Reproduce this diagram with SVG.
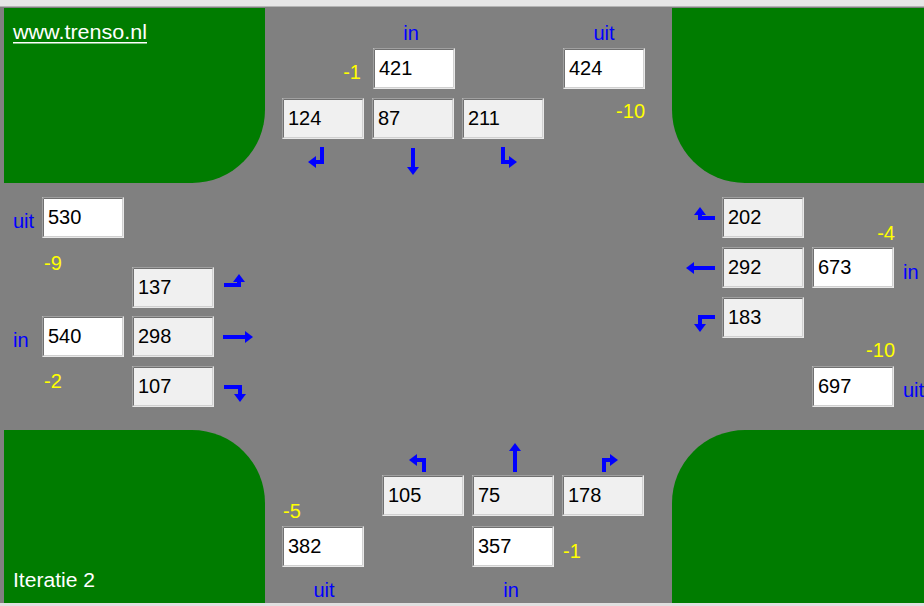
<svg xmlns="http://www.w3.org/2000/svg" xmlns:xlink="http://www.w3.org/1999/xlink" width="924" height="606" viewBox="0 0 924 606">
<style>
.grass{fill:#007c00}
.num{font-family:"Liberation Sans",Arial,sans-serif;font-size:20px;fill:#000}
.lbl{font-family:"Liberation Sans",Arial,sans-serif;font-size:20px;fill:#0000ff}
.diff{font-family:"Liberation Sans",Arial,sans-serif;font-size:20px;fill:#ffff00}
.white{font-family:"Liberation Sans",Arial,sans-serif;font-size:20px;fill:#ffffff}
.arr{fill:none;stroke:#0000ff;stroke-width:4;stroke-linejoin:miter;marker-end:url(#head)}
</style>
<defs>
<marker id="head" markerUnits="userSpaceOnUse" markerWidth="8" markerHeight="12" viewBox="0 0 8 12" refX="2" refY="6" orient="auto">
<path d="M0,0 L8,6 L0,12 Z" fill="#0000ff"/>
</marker>
<g id="boxW">
<rect x="0" y="0" width="82" height="41" fill="#ffffff"/>
<path d="M0.5,41 V0.5 H82" fill="none" stroke="#a0a0a0"/>
<path d="M1.5,40 V1.5 H81" fill="none" stroke="#707070"/>
<path d="M0.5,40.5 H81.5 V0.5" fill="none" stroke="#e8e8e8"/>
<path d="M1.5,39.5 H80.5 V1.5" fill="none" stroke="#d0d0d0"/>
</g>
<g id="boxG">
<rect x="0" y="0" width="82" height="41" fill="#f0f0f0"/>
<path d="M0.5,41 V0.5 H82" fill="none" stroke="#a0a0a0"/>
<path d="M1.5,40 V1.5 H81" fill="none" stroke="#707070"/>
<path d="M0.5,40.5 H81.5 V0.5" fill="none" stroke="#e8e8e8"/>
<path d="M1.5,39.5 H80.5 V1.5" fill="none" stroke="#d0d0d0"/>
</g>
</defs>
<rect x="0" y="0" width="924" height="606" fill="#808080"/>
<rect x="0" y="0" width="924" height="6" fill="#e6e6e6"/>
<rect x="0" y="6" width="924" height="1" fill="#b4b4b4"/>
<rect x="0" y="603" width="924" height="3" fill="#e0e0e0"/>
<g id="grass">
<path class="grass" d="M4,8 H265 V110 A73,73 0 0 1 192,183 H4 Z"/>
<path class="grass" d="M672,8 H924 V183 H745 A73,73 0 0 1 672,110 Z"/>
<path class="grass" d="M4,430 H192 A73,73 0 0 1 265,503 V603 H4 Z"/>
<path class="grass" d="M745,430 H924 V603 H672 V503 A73,73 0 0 1 745,430 Z"/>
</g>
<g id="captions">
<text class="white" x="13" y="39" textLength="134" lengthAdjust="spacingAndGlyphs">www.trenso.nl</text>
<rect x="13" y="42" width="134" height="1.5" fill="#ffffff"/>
<text class="white" x="13" y="587" textLength="82" lengthAdjust="spacingAndGlyphs">Iteratie 2</text>
</g>
<g id="north">
<text class="lbl" x="411" y="40" text-anchor="middle">in</text>
<text class="lbl" x="604" y="40" text-anchor="middle">uit</text>
<text class="diff" x="361" y="79" text-anchor="end">-1</text>
<text class="diff" x="645" y="118" text-anchor="end">-10</text>
<g id="n-in" transform="translate(373,48)"><use xlink:href="#boxW"/><text class="num" x="6" y="27">421</text></g>
<g id="n-uit" transform="translate(563,48)"><use xlink:href="#boxW"/><text class="num" x="6" y="27">424</text></g>
<g id="n-r" transform="translate(282,98)"><use xlink:href="#boxG"/><text class="num" x="6" y="27">124</text></g>
<g id="n-s" transform="translate(372,98)"><use xlink:href="#boxG"/><text class="num" x="6" y="27">87</text></g>
<g id="n-l" transform="translate(462,98)"><use xlink:href="#boxG"/><text class="num" x="6" y="27">211</text></g>
</g>
<g id="west">
<text class="lbl" x="13" y="228">uit</text>
<text class="diff" x="44" y="270">-9</text>
<text class="lbl" x="13" y="347">in</text>
<text class="diff" x="44" y="388">-2</text>
<g id="w-uit" transform="translate(42,197)"><use xlink:href="#boxW"/><text class="num" x="6" y="27">530</text></g>
<g id="w-l" transform="translate(132,267)"><use xlink:href="#boxG"/><text class="num" x="6" y="27">137</text></g>
<g id="w-in" transform="translate(42,316)"><use xlink:href="#boxW"/><text class="num" x="6" y="27">540</text></g>
<g id="w-s" transform="translate(132,316)"><use xlink:href="#boxG"/><text class="num" x="6" y="27">298</text></g>
<g id="w-r" transform="translate(132,366)"><use xlink:href="#boxG"/><text class="num" x="6" y="27">107</text></g>
</g>
<g id="east">
<text class="diff" x="895" y="240" text-anchor="end">-4</text>
<text class="lbl" x="903" y="279">in</text>
<text class="diff" x="895" y="357" text-anchor="end">-10</text>
<text class="lbl" x="903" y="397">uit</text>
<g id="e-r" transform="translate(722,197)"><use xlink:href="#boxG"/><text class="num" x="6" y="27">202</text></g>
<g id="e-s" transform="translate(722,247)"><use xlink:href="#boxG"/><text class="num" x="6" y="27">292</text></g>
<g id="e-in" transform="translate(812,247)"><use xlink:href="#boxW"/><text class="num" x="6" y="27">673</text></g>
<g id="e-l" transform="translate(722,297)"><use xlink:href="#boxG"/><text class="num" x="6" y="27">183</text></g>
<g id="e-uit" transform="translate(812,366)"><use xlink:href="#boxW"/><text class="num" x="6" y="27">697</text></g>
</g>
<g id="south">
<text class="diff" x="283" y="518">-5</text>
<text class="diff" x="563" y="558">-1</text>
<text class="lbl" x="324" y="597" text-anchor="middle">uit</text>
<text class="lbl" x="511" y="597" text-anchor="middle">in</text>
<g id="s-l" transform="translate(382,475)"><use xlink:href="#boxG"/><text class="num" x="6" y="27">105</text></g>
<g id="s-s" transform="translate(472,475)"><use xlink:href="#boxG"/><text class="num" x="6" y="27">75</text></g>
<g id="s-r" transform="translate(562,475)"><use xlink:href="#boxG"/><text class="num" x="6" y="27">178</text></g>
<g id="s-uit" transform="translate(282,526)"><use xlink:href="#boxW"/><text class="num" x="6" y="27">382</text></g>
<g id="s-in" transform="translate(472,526)"><use xlink:href="#boxW"/><text class="num" x="6" y="27">357</text></g>
</g>
<g id="connectors">
<path class="arr" d="M322,147 V162 H314"/>
<path class="arr" d="M413,148 V169"/>
<path class="arr" d="M503,147 V162 H511"/>
<path class="arr" d="M224,285 H239 V280"/>
<path class="arr" d="M223,337 H247"/>
<path class="arr" d="M224,387 H240 V396"/>
<path class="arr" d="M715,218 H700 V213"/>
<path class="arr" d="M715,268 H692"/>
<path class="arr" d="M715,317 H700 V326"/>
<path class="arr" d="M424,472 V460 H415"/>
<path class="arr" d="M515,472 V449"/>
<path class="arr" d="M604,472 V460 H612"/>
</g>
</svg>
